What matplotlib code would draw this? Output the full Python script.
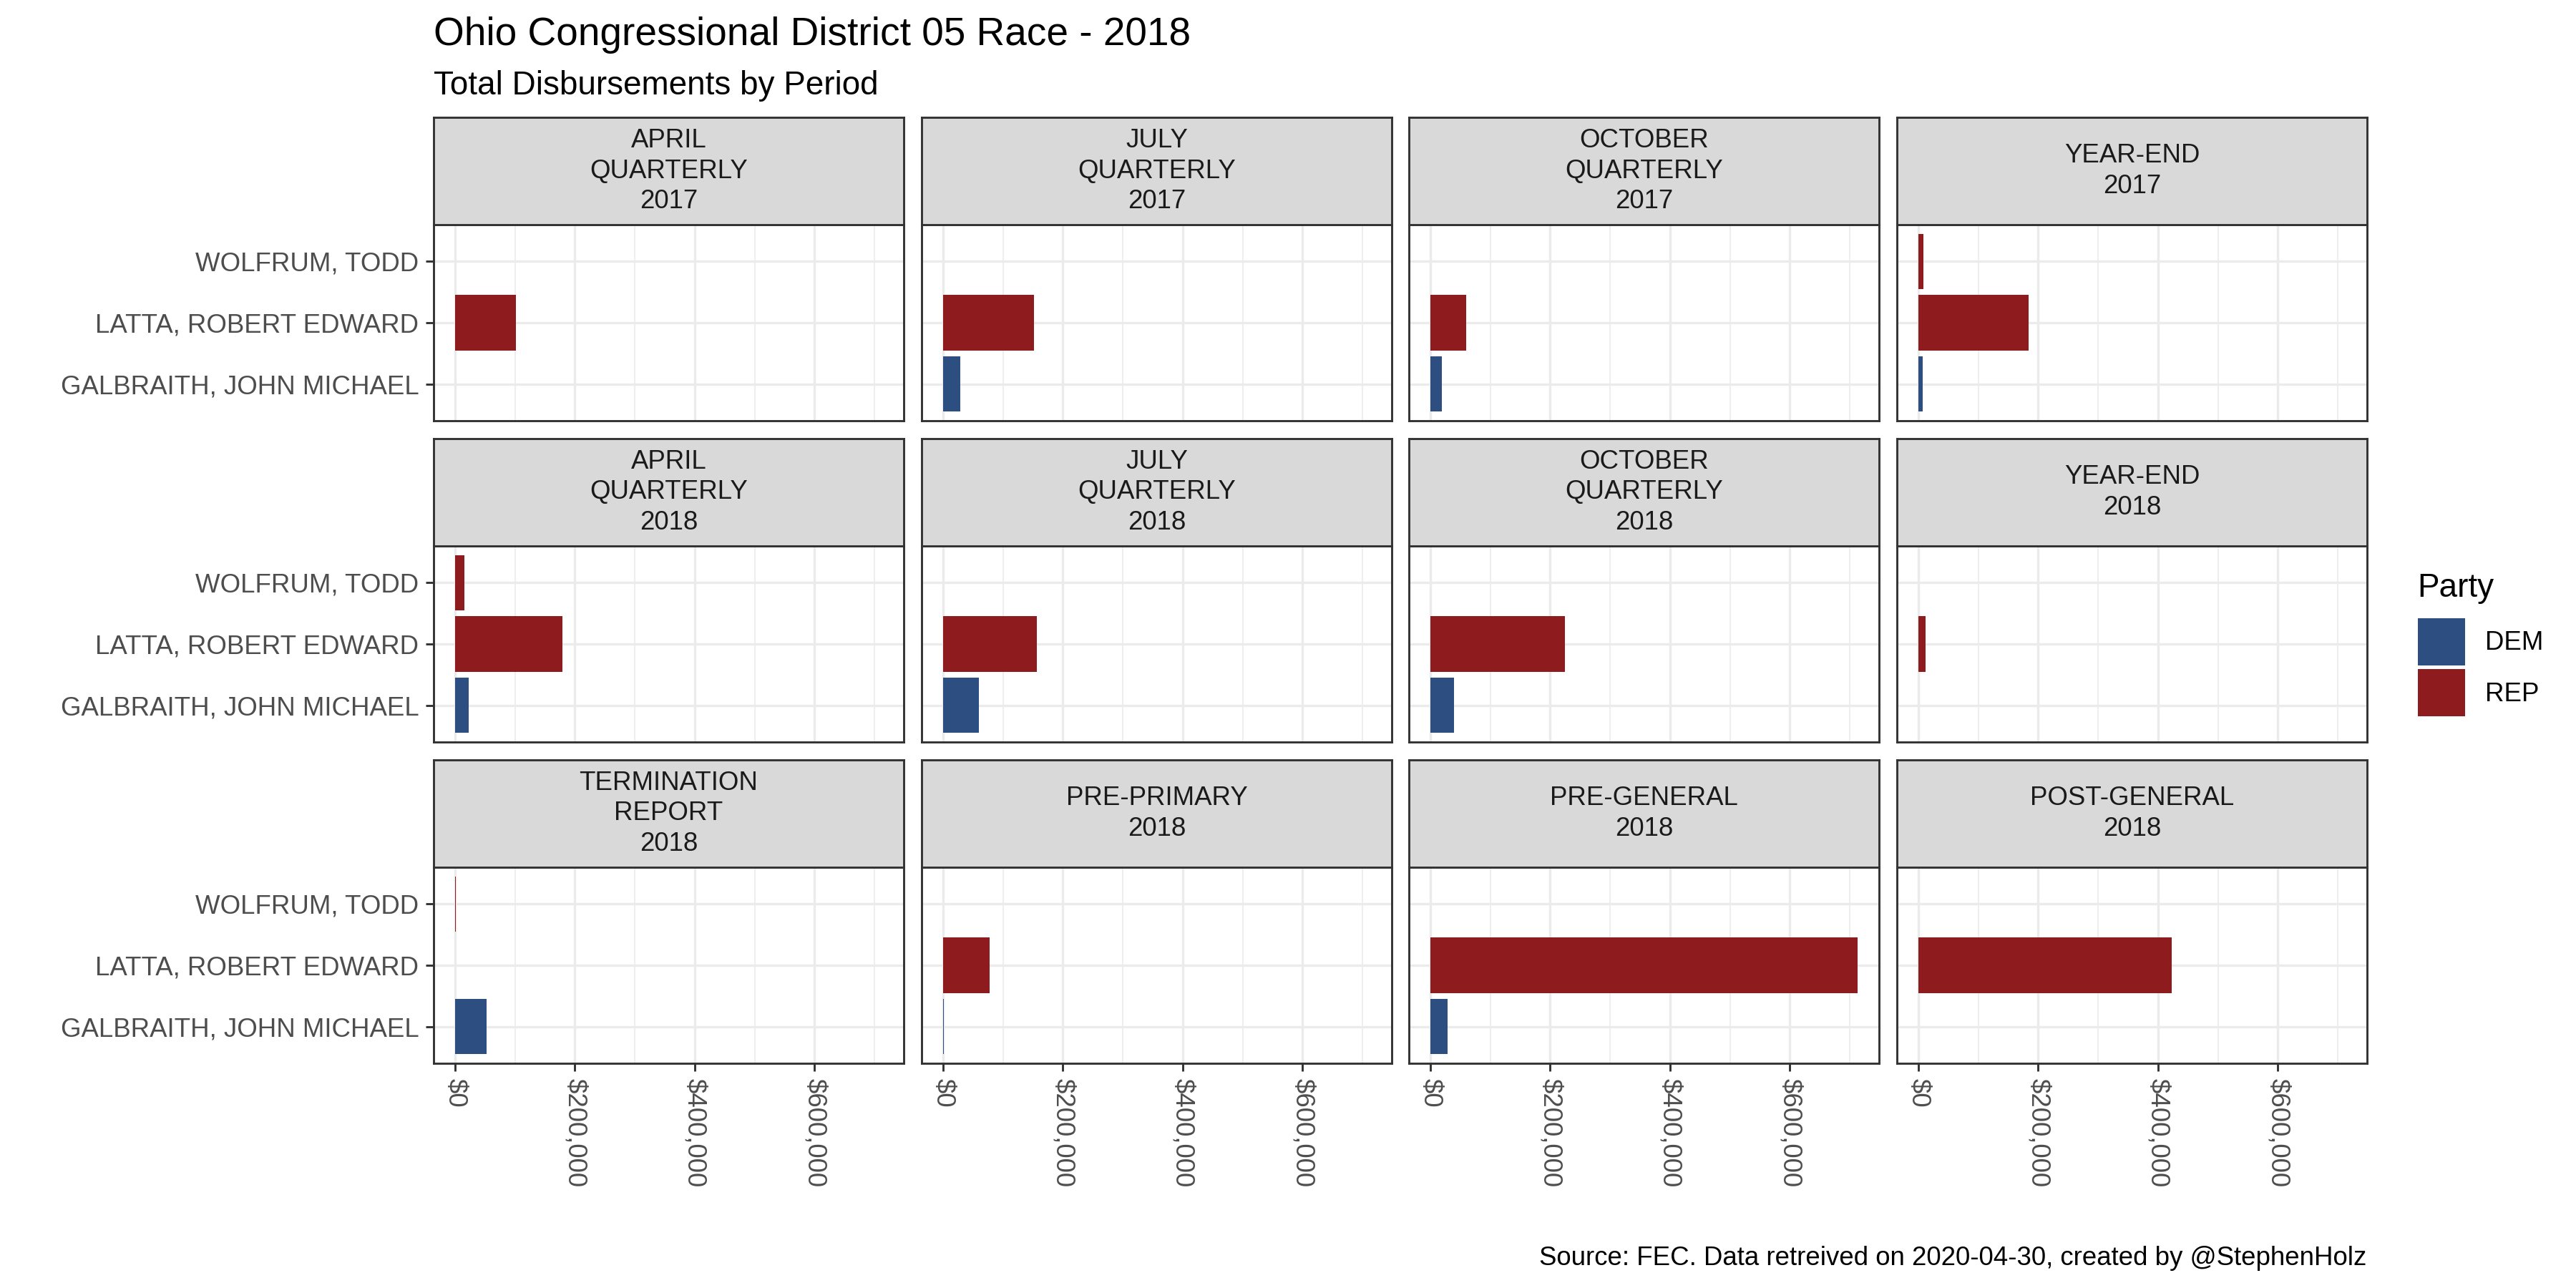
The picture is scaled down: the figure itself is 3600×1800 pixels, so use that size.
import matplotlib
matplotlib.use("Agg")
import matplotlib.pyplot as plt
from matplotlib.patches import Patch
from matplotlib.ticker import FixedLocator, FuncFormatter

plt.rcParams['font.family'] = ['Liberation Sans', 'DejaVu Sans']

# --------------------
# Data
# --------------------
periods = [
    "APRIL\nQUARTERLY\n2017", "JULY\nQUARTERLY\n2017", "OCTOBER\nQUARTERLY\n2017", "YEAR-END\n2017",
    "APRIL\nQUARTERLY\n2018", "JULY\nQUARTERLY\n2018", "OCTOBER\nQUARTERLY\n2018", "YEAR-END\n2018",
    "TERMINATION\nREPORT\n2018", "PRE-PRIMARY\n2018", "PRE-GENERAL\n2018", "POST-GENERAL\n2018",
]
candidates = ["GALBRAITH, JOHN MICHAEL", "LATTA, ROBERT EDWARD", "WOLFRUM, TODD"]
candidate_party = ["DEM", "REP", "REP"]

# total disbursements per period (None = no filing)
galbraith = [None, 28700, 19000, 7000, 23000, 60000, 39000, None, 53000, 1500, 29000, None]
latta = [102000, 151500, 60000, 184000, 179000, 156000, 225000, 12000, None, 78000, 713000, 423000]
wolfrum = [None, None, None, 8000, 16000, None, None, None, 900, None, None, None]
values = [galbraith, latta, wolfrum]

parties = ["DEM", "REP"]
party_colors = {"DEM": "#2C4E80", "REP": "#8E1B1E"}

x_ticks = [0, 200000, 400000, 600000]
x_minor = [100000, 300000, 500000, 700000]

title = "Ohio Congressional District 05 Race - 2018"
subtitle = "Total Disbursements by Period"
caption = "Source: FEC. Data retreived on 2020-04-30, created by @StephenHolz"

# --------------------
# Layout (pixels on a 3600x1800 canvas)
# --------------------
W, H = 3600, 1800
col_left = [606, 1288, 1969, 2651]
panel_w = 657
row_tb = [(314, 588), (763, 1037), (1212, 1486)]
strip_h = 150

border = "#333333"
grid_col = "#EBEBEB"


def fx(px):
    return px / W


def fy(py):
    return 1 - py / H


def money(v, pos=None):
    return "${:,.0f}".format(v)


fig = plt.figure(figsize=(12, 6), dpi=300)

vmax = max(v for series in values for v in series if v is not None)
xlim = (-0.05 * vmax, 1.05 * vmax)

for i, period in enumerate(periods):
    r, c = divmod(i, 4)
    top, bottom = row_tb[r]
    left = col_left[c]

    ax = fig.add_axes([fx(left), fy(bottom), panel_w / W, (bottom - top) / H])
    ax.set_axisbelow(True)
    for j, series in enumerate(values):
        v = series[i]
        if v is not None:
            ax.barh(j, v, height=0.9, color=party_colors[candidate_party[j]], linewidth=0)

    ax.set_xlim(*xlim)
    ax.set_ylim(-0.6, len(candidates) - 0.4)
    ax.xaxis.set_major_locator(FixedLocator(x_ticks))
    ax.xaxis.set_minor_locator(FixedLocator(x_minor))
    ax.xaxis.set_major_formatter(FuncFormatter(money))
    ax.set_yticks(range(len(candidates)))
    ax.set_yticklabels(candidates)

    ax.grid(True, which="major", color=grid_col, linewidth=0.8)
    ax.grid(True, which="minor", axis="x", color=grid_col, linewidth=0.4)
    for s in ax.spines.values():
        s.set_color(border)
        s.set_linewidth(0.7)

    ax.tick_params(axis="both", which="major", length=2.75, width=0.7, color=border,
                   labelsize=8.8, labelcolor="#4D4D4D", pad=2.2)
    ax.tick_params(axis="x", which="minor", length=0)
    if c != 0:
        ax.tick_params(axis="y", left=False, labelleft=False)
    if r != 2:
        ax.tick_params(axis="x", bottom=False, labelbottom=False)
    else:
        for lab in ax.get_xticklabels():
            lab.set_rotation(270)
            lab.set_ha("center")
            lab.set_va("top")

    # facet strip
    sax = fig.add_axes([fx(left), fy(top), panel_w / W, strip_h / H])
    sax.set_facecolor("#D9D9D9")
    sax.set_xticks([])
    sax.set_yticks([])
    for s in sax.spines.values():
        s.set_color(border)
        s.set_linewidth(0.7)
    sax.text(0.5, 0.5, period, ha="center", va="center", fontsize=8.8,
             color="#1A1A1A", linespacing=1.26, transform=sax.transAxes)

fig.text(fx(606), fy(63), title, fontsize=13.2, ha="left", va="baseline")
fig.text(fx(606), fy(132), subtitle, fontsize=11, ha="left", va="baseline")
fig.text(fx(3307), fy(1768), caption, fontsize=8.8, ha="right", va="baseline")

# legend: title as text, keys via fig.legend
fig.text(fx(3378), fy(834), "Party", fontsize=11, ha="left", va="baseline")
handles = [Patch(facecolor=party_colors[p], edgecolor="none") for p in parties]
fig.legend(handles, parties, loc="upper left",
           bbox_to_anchor=(fx(3379), fy(864)), frameon=False, fontsize=8.8,
           handlelength=1.8, handleheight=2.39,
           handletextpad=0.76, labelspacing=0.15, borderpad=0,
           borderaxespad=0)

fig.savefig("out.png", dpi=300)
